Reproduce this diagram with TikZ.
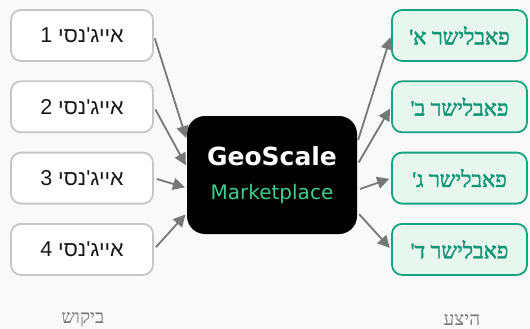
\documentclass[tikz,border=0pt]{standalone}
\usepackage{fontspec}
\usetikzlibrary{arrows.meta}
\TeXXeTstate=1
\newfontfamily\hebsans[Script=Hebrew]{Liberation Sans}
\newfontfamily\hebserif[Script=Hebrew]{Liberation Serif}
\newfontfamily\hebserifheavy[Script=Hebrew,FakeBold=2]{Liberation Serif}
\newfontfamily\hubfont{DejaVu Sans}
\definecolor{bgpaper}{HTML}{F9F9F9}
\definecolor{agencyline}{HTML}{C6C6C6}
\definecolor{publine}{HTML}{17A37B}
\definecolor{pubfill}{HTML}{E7F6EF}
\definecolor{pubtext}{HTML}{139672}
\definecolor{mktgreen}{HTML}{3ECF8E}
\definecolor{flowgray}{HTML}{777777}

\begin{document}
\begin{tikzpicture}[x=1pt,y=-1pt,
  agency/.style={draw=agencyline,fill=white,line width=1.8pt,rounded corners=10pt,
    minimum width=142pt,minimum height=51pt,text=black!90,
    font=\hebsans\fontsize{21.5}{24}\selectfont},
  publisher/.style={draw=publine,fill=pubfill,line width=1.8pt,rounded corners=10pt,
    minimum width=135pt,minimum height=51pt,text=pubtext,
    font=\hebserifheavy\fontsize{22}{25}\selectfont},
  hub/.style={fill=black,rounded corners=18pt,minimum width=170pt,minimum height=118pt,
    align=center,inner sep=0pt},
  side/.style={text=flowgray,font=\hebserif\fontsize{19}{21}\selectfont},
  arrow/.style={-{Triangle[length=12pt,width=12pt]},line width=1.8pt,draw=flowgray,
    shorten <=3pt,shorten >=2pt}]
\fill[bgpaper] (0,0) rectangle (530,329);
\useasboundingbox (0,0) rectangle (530,329);
% demand side
\node[agency] (ag1) at (82,35.5) {\beginR אייג'נסי 1\endR};
\node[agency] (ag2) at (82,106.8) {\beginR אייג'נסי 2\endR};
\node[agency] (ag3) at (82,178.1) {\beginR אייג'נסי 3\endR};
\node[agency] (ag4) at (82,249.4) {\beginR אייג'נסי 4\endR};
% marketplace in the middle
\node[hub] (geo) at (272,175) {%
  {\hubfont\bfseries\fontsize{25}{28}\selectfont\color{white}GeoScale}\\[17pt]
  {\hubfont\fontsize{20}{22}\selectfont\color{mktgreen}Marketplace}};
% supply side
\node[publisher] (pub1) at (459.5,35.5) {\beginR פאבלישר א'\endR};
\node[publisher] (pub2) at (459.5,106.8) {\beginR פאבלישר ב'\endR};
\node[publisher] (pub3) at (459.5,178.1) {\beginR פאבלישר ג'\endR};
\node[publisher] (pub4) at (459.5,249.4) {\beginR פאבלישר ד'\endR};
\node[side] (demand) at (83,320) {\beginR ביקוש\endR};
\node[side] (supply) at (462,320) {\beginR היצע\endR};
\foreach \i/\dy in {1/-35,2/-8,3/13,4/38}
  \draw[arrow] (ag\i.east) -- ([yshift=-\dy pt]geo.west);
\foreach \i/\dy in {1/-32,2/-10,3/15,4/37}
  \draw[arrow] ([yshift=-\dy pt]geo.east) -- (pub\i.west);
\end{tikzpicture}
\end{document}
